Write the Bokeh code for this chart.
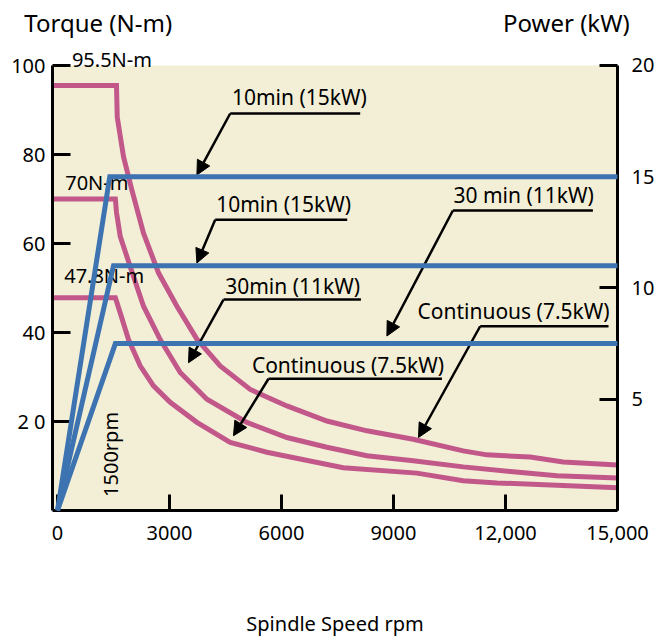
from bokeh.plotting import figure
from bokeh.models import (Range1d, LinearAxis, FixedTicker, Label, Arrow, NormalHead,
                          BoxAnnotation)
from bokeh.embed import file_html
from bokeh.resources import INLINE

FONT = "Noto Sans"
PINK = "#C2588A"
BLUE = "#3D73B1"
BEIGE = "#F3EFD7"

# ---- data ----
x_ticks = [0, 3000, 6000, 9000, 12000, 15000]
x_tick_labels = ["0", "3000", "6000", "9000", "12,000", "15,000"]
torque_ticks = [20, 40, 60, 80, 100]
torque_tick_labels = ["2 0", "40", "60", "80", "100"]
power_ticks = [5, 10, 15, 20]

# torque curves (N-m) vs spindle speed (rpm)
rpm_10min = [-134, 1580, 1600, 1768, 1993, 2304, 2705, 3198, 3734, 4358, 5162, 6145,
             7216, 8288, 9528, 10867, 11502, 12662, 13546, 15000]
tq_10min = [95.5, 95.5, 88.4, 79.5, 72.0, 62.3, 53.4, 45.9, 38.5, 32.5, 27.2, 23.5,
            20.1, 17.9, 16.0, 13.4, 12.5, 12.0, 10.9, 10.2]
rpm_30min = [-134, 1550, 1580, 1680, 1947, 2304, 2751, 3287, 4002, 5073, 6145, 7216,
             8288, 9528, 10867, 12207, 13377, 15000]
tq_30min = [70.0, 70.0, 67.0, 61.6, 54.8, 45.9, 38.4, 31.0, 25.0, 19.8, 16.4, 14.2,
            12.3, 11.2, 9.8, 8.7, 7.8, 7.3]
rpm_cont = [-134, 1550, 1680, 1902, 2215, 2571, 3019, 3734, 4626, 5609, 7653, 9627,
            10867, 11770, 15000]
tq_cont = [47.8, 47.8, 44.4, 38.4, 32.5, 28.0, 24.3, 19.8, 15.3, 13.1, 9.6, 8.4,
           6.7, 6.2, 5.1]

# power curves (kW)
rpm_p15 = [0, 1400, 15000]
kw_p15 = [0, 15, 15]
rpm_p11 = [0, 1500, 15000]
kw_p11 = [0, 11, 11]
rpm_p75 = [0, 1550, 15000]
kw_p75 = [0, 7.5, 7.5]

# annotations: text, text x, text y, underline x0, x1, y, arrow tip x, y
annotations = [
    ("10min (15kW)", 4671, 92.8, 4626, 8108, 89.2, 3734, 75.4),
    ("10min (15kW)", 4251, 68.9, 4224, 7760, 65.3, 3734, 55.6),
    ("30min (11kW)", 4492, 50.5, 4447, 8127, 47.4, 3509, 33.2),
    ("Continuous (7.5kW)", 5207, 32.6, 5652, 10297, 29.6, 4714, 16.8),
    ("30 min (11kW)", 10607, 70.9, 10591, 14341, 67.4, 8823, 39.2),
    ("Continuous (7.5kW)", 9643, 44.9, 11322, 14759, 41.4, 9670, 16.4),
]
curve_labels = [("95.5N-m", 386, 101.3), ("70N-m", 206, 73.8), ("47.8N-m", 179, 52.7)]
titles = [("Torque (N-m)", 1090), ("Power (kW)", 13630)]

p = figure(width=660, height=639, output_backend="svg", toolbar_location=None,
           x_range=Range1d(-134, 15000), y_range=Range1d(0, 104.7),
           min_border_left=52, min_border_right=43, min_border_top=44,
           min_border_bottom=127, x_axis_location=None, y_axis_location=None)
p.extra_y_ranges = {"power": Range1d(0, 20.94)}
p.grid.visible = False
p.outline_line_color = None
p.background_fill_color = "white"
p.border_fill_color = "white"
p.add_layout(BoxAnnotation(top=100, fill_color=BEIGE, fill_alpha=1, line_color=None,
                           level="underlay"))


def style_axis(ax, standoff):
    ax.axis_line_width = 3
    ax.axis_line_color = "black"
    ax.major_tick_in = 18
    ax.major_tick_out = 0
    ax.major_tick_line_width = 3
    ax.minor_tick_line_color = None
    ax.major_label_text_font = FONT
    ax.major_label_text_font_size = "20px"
    ax.major_label_text_color = "black"
    ax.major_label_standoff = standoff


xa = LinearAxis(ticker=FixedTicker(ticks=x_ticks),
                major_label_overrides={t: l for t, l in zip(x_ticks, x_tick_labels)},
                axis_label="Spindle Speed rpm")
style_axis(xa, 15)
xa.major_tick_in = 16
xa.axis_label_text_font = FONT
xa.axis_label_text_font_size = "20px"
xa.axis_label_text_font_style = "normal"
xa.axis_label_text_color = "black"
xa.axis_label_standoff = 67
p.add_layout(xa, "below")

ya = LinearAxis(ticker=FixedTicker(ticks=torque_ticks), bounds=(0, 100),
                major_label_overrides={t: l for t, l in zip(torque_ticks, torque_tick_labels)})
style_axis(ya, 7)
p.add_layout(ya, "left")

ra = LinearAxis(y_range_name="power", ticker=FixedTicker(ticks=power_ticks), bounds=(0, 20))
style_axis(ra, 14)
p.add_layout(ra, "right")

ta = LinearAxis(ticker=FixedTicker(ticks=[t[1] for t in titles]),
                major_label_overrides={t[1]: t[0] for t in titles})
ta.axis_line_color = None
ta.major_tick_line_color = None
ta.minor_tick_line_color = None
ta.major_tick_in = 0
ta.major_tick_out = 0
ta.major_label_text_font = FONT
ta.major_label_text_font_size = "24px"
ta.major_label_text_color = "black"
ta.major_label_standoff = 6
p.add_layout(ta, "above")

# torque curves
for xs, ys in [(rpm_10min, tq_10min), (rpm_30min, tq_30min), (rpm_cont, tq_cont)]:
    p.line(xs, ys, line_color=PINK, line_width=5, line_join="miter")

# power curves
for xs, ys in [(rpm_p15, kw_p15), (rpm_p11, kw_p11), (rpm_p75, kw_p75)]:
    p.line(xs, ys, line_color=BLUE, line_width=5, y_range_name="power",
           line_join="miter", level="overlay")

# annotations
for txt, tx, ty, ux0, ux1, uy, ax_, ay in annotations:
    p.add_layout(Label(x=tx, y=ty, text=txt, text_font=FONT, text_font_size="21px",
                       text_baseline="middle", text_align="left", text_color="black"))
    p.line([ux0, ux1], [uy, uy], line_color="black", line_width=2.5)
    p.add_layout(Arrow(x_start=ux0, y_start=uy, x_end=ax_, y_end=ay, line_width=2.5,
                       line_color="black",
                       end=NormalHead(size=14, fill_color="black", line_color="black")))

# curve labels
for txt, tx, ty in curve_labels:
    p.add_layout(Label(x=tx, y=ty, text=txt, text_font=FONT, text_font_size="20px",
                       text_baseline="middle", text_align="left", text_color="black"))
p.add_layout(Label(x=1420, y=12.6, text="1500rpm", angle=1.5708, text_font=FONT,
                   text_font_size="20px", text_baseline="middle", text_align="center",
                   text_color="black"))

open("out.html", "w").write(file_html(p, INLINE))
